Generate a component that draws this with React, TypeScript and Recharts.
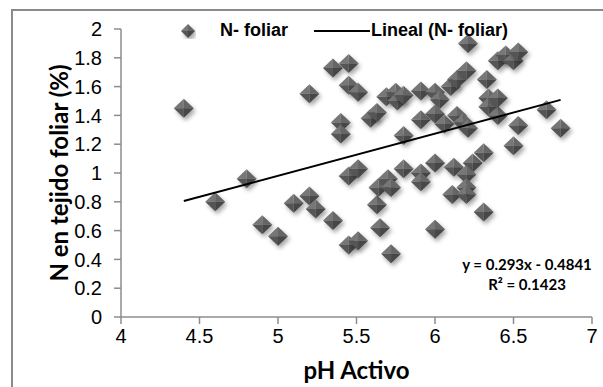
import React from "react";
import { ScatterChart, Scatter, XAxis, YAxis, Label } from "recharts";

// pH activo (x) and N en tejido foliar (%) (y)
const phActivo = [
  4.4, 4.6, 4.8, 4.9, 5.0, 5.1, 5.2, 5.2, 5.24, 5.35, 5.35, 5.4, 5.4, 5.45,
  5.45, 5.51, 5.45, 5.51, 5.45, 5.51, 5.59, 5.63, 5.63, 5.65, 5.64, 5.7, 5.72,
  5.72, 5.69, 5.75, 5.76, 5.8, 5.8, 5.8, 5.91, 5.91, 5.91, 5.91, 6.0, 6.03,
  6.0, 6.06, 6.0, 6.0, 6.1, 6.14, 6.2, 6.21, 6.14, 6.18, 6.21, 6.12, 6.11,
  6.24, 6.2, 6.2, 6.2, 6.31, 6.31, 6.33, 6.34, 6.34, 6.4, 6.4, 6.4, 6.45, 6.5,
  6.53, 6.53, 6.5, 6.71, 6.8,
];
const nFoliar = [
  1.45, 0.8, 0.96, 0.64, 0.56, 0.79, 1.55, 0.84, 0.75, 0.67, 1.73, 1.35, 1.27,
  1.76, 1.61, 1.56, 0.98, 1.03, 0.5, 0.53, 1.38, 1.42, 0.78, 0.62, 0.9, 0.96,
  0.9, 0.44, 1.53, 1.56, 1.5, 1.54, 1.26, 1.03, 1.57, 1.37, 1.0, 0.94, 1.56,
  1.51, 1.41, 1.34, 1.07, 0.61, 1.6, 1.65, 1.71, 1.9, 1.4, 1.35, 1.31, 1.04,
  0.85, 1.07, 0.99, 0.9, 0.85, 1.14, 0.73, 1.65, 1.52, 1.46, 1.4, 1.52, 1.78,
  1.82, 1.78, 1.84, 1.33, 1.19, 1.44, 1.31,
];

// ends of the Excel linear trendline
const trendX = [4.4, 6.8];
const trendY = [0.805, 1.508];

const xTicks = [4, 4.5, 5, 5.5, 6, 6.5, 7];
const yTicks = [0, 0.2, 0.4, 0.6, 0.8, 1, 1.2, 1.4, 1.6, 1.8, 2];

const points = phActivo.map((x, i) => ({ x, y: nFoliar[i] }));
const trend = trendX.map((x, i) => ({ x, y: trendY[i] }));

const narrow = "'Liberation Sans Narrow', 'Arial Narrow', 'Liberation Sans', sans-serif";
const bold = "Lato, 'Open Sans', sans-serif";
const axisGray = "#8c8c8c";

function Diamond({ cx, cy, w = 10, h = 9.5 }: any) {
  if (cx == null || cy == null) return null;
  return (
    <g style={{ filter: "drop-shadow(2px 3px 2px rgba(0,0,0,0.35))" }}>
      <polygon points={`${cx - w},${cy} ${cx},${cy - h} ${cx},${cy}`} fill="#777" />
      <polygon points={`${cx},${cy - h} ${cx + w},${cy} ${cx},${cy}`} fill="#666" />
      <polygon points={`${cx - w},${cy} ${cx},${cy + h} ${cx},${cy}`} fill="#555" />
      <polygon points={`${cx},${cy + h} ${cx + w},${cy} ${cx},${cy}`} fill="#474747" />
    </g>
  );
}

function LegendBox() {
  return (
    <div
      style={{
        position: "absolute",
        left: 180,
        top: 20,
        display: "flex",
        alignItems: "center",
        fontFamily: narrow,
        fontWeight: 700,
        fontSize: 18,
        color: "#000",
        whiteSpace: "nowrap",
      }}
    >
      <svg width={16} height={16} style={{ marginRight: 24 }}>
        <Diamond cx={8} cy={8} w={7} h={7} />
      </svg>
      <span>N- foliar</span>
      <svg width={56} height={4} style={{ marginLeft: 26, marginRight: 1 }}>
        <line x1={0} y1={2} x2={56} y2={2} stroke="#000" strokeWidth={2} />
      </svg>
      <span>Lineal (N- foliar)</span>
    </div>
  );
}

function YTitle({ viewBox }: any) {
  const x = 58;
  const y = viewBox.y + viewBox.height / 2;
  return (
    <text
      x={x}
      y={y}
      transform={`rotate(-90, ${x}, ${y})`}
      textAnchor="middle"
      dominantBaseline="central"
      fontFamily={bold}
      fontWeight={700}
      fontSize={24}
      fill="#000"
    >
      N en tejido foliar (%)
    </text>
  );
}

export default function App() {
  return (
    <div
      style={{
        position: "absolute",
        left: 0,
        top: 0,
        width: 603,
        height: 387,
        background: "#fff",
        overflow: "hidden",
      }}
    >
      <div
        style={{
          position: "absolute",
          left: 11,
          top: 9,
          width: 620,
          height: 400,
          borderLeft: "2px solid #8a8a8a",
          borderTop: "2px solid #8a8a8a",
        }}
      />
      <ScatterChart
        width={603}
        height={387}
        margin={{ top: 29, right: 11, left: 0, bottom: 0 }}
      >
        <XAxis
          type="number"
          dataKey="x"
          domain={[4, 7]}
          ticks={xTicks}
          height={70}
          stroke={axisGray}
          strokeWidth={1.5}
          tickSize={7}
          tickMargin={5}
          tick={{ fill: "#000", fontSize: 20, fontFamily: narrow }}
          allowDataOverflow
        >
          <Label
            value="pH Activo"
            position="insideBottom"
            offset={8}
            style={{ fontFamily: bold, fontWeight: 700, fontSize: 24, fill: "#000" }}
          />
        </XAxis>
        <YAxis
          type="number"
          dataKey="y"
          domain={[0, 2]}
          ticks={yTicks}
          width={121}
          stroke={axisGray}
          strokeWidth={1.5}
          tickSize={7}
          tickMargin={12}
          tick={{ fill: "#000", fontSize: 20, fontFamily: narrow }}
          allowDataOverflow
        >
          <Label content={<YTitle />} />
        </YAxis>
        <Scatter
          name="N- foliar"
          data={points}
          shape={<Diamond />}
          isAnimationActive={false}
        />
        <Scatter
          name="Lineal (N- foliar)"
          data={trend}
          line={{ stroke: "#000", strokeWidth: 2 }}
          shape={() => null}
          isAnimationActive={false}
        />
      </ScatterChart>
      <LegendBox />
      <div
        style={{
          position: "absolute",
          left: 437,
          top: 254,
          width: 180,
          textAlign: "center",
          fontFamily: bold,
          fontWeight: 700,
          fontSize: 15,
          lineHeight: "20px",
          color: "#000",
        }}
      >
        y = 0.293x - 0.4841
        <br />
        R² = 0.1423
      </div>
    </div>
  );
}
